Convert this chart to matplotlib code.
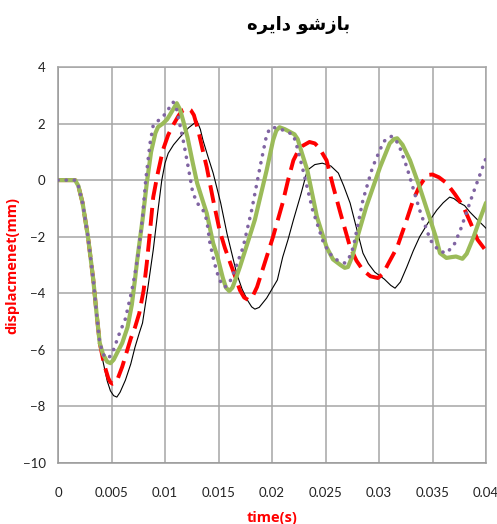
import matplotlib.pyplot as plt

# time (s) / displacement (mm), one pair per series
t_black = [0, 0.0016, 0.0019, 0.0023, 0.0028, 0.0033, 0.0036, 0.0039, 0.0042, 0.0046,
           0.0049, 0.0052, 0.0055, 0.0058, 0.0063, 0.0068, 0.0072, 0.0076, 0.0079, 0.0084,
           0.0089, 0.0093, 0.0097, 0.0100, 0.0103, 0.0108, 0.0114, 0.0122, 0.0127, 0.0130,
           0.0133, 0.01355, 0.0140, 0.0145, 0.0152, 0.0158, 0.0167, 0.0172, 0.0177, 0.0181,
           0.0184, 0.0188, 0.0195, 0.0200, 0.0205, 0.0210, 0.0215, 0.0220, 0.0227, 0.0233,
           0.0240, 0.0247, 0.0255, 0.0262, 0.0267, 0.0273, 0.0279, 0.0285, 0.0290, 0.0296,
           0.0305, 0.0311, 0.0315, 0.0320, 0.0326, 0.0332, 0.0338, 0.0346, 0.0354, 0.0360,
           0.0366, 0.0370, 0.0375, 0.0380, 0.0385, 0.0392, 0.0400]
y_black = [0, 0, -0.2, -0.81, -2.0, -3.53, -4.7, -5.76, -6.4, -7.1,
           -7.45, -7.62, -7.67, -7.5, -7.07, -6.5, -5.9, -5.4, -5.05, -3.8,
           -2.47, -1.2, 0, 0.6, 0.95, 1.25, 1.52, 1.85, 2.0, 2.08,
           1.8, 1.41, 0.85, 0.25, -0.8, -1.9, -3.3, -3.85, -4.24, -4.48,
           -4.56, -4.5, -4.17, -3.85, -3.53, -2.72, -2.1, -1.41, -0.5, 0.35,
           0.55, 0.6, 0.5, 0.25, -0.2, -0.81, -1.7, -2.58, -2.95, -3.25,
           -3.5, -3.72, -3.82, -3.6, -3.07, -2.5, -2.0, -1.5, -1.06, -0.8,
           -0.6, -0.65, -0.8, -0.9, -1.13, -1.4, -1.7]

t_red = [0, 0.0016, 0.0019, 0.0023, 0.0028, 0.0033, 0.0036, 0.0039, 0.0043, 0.0047,
         0.0049, 0.0051, 0.0053, 0.0056, 0.0060, 0.0064, 0.0068, 0.0072, 0.0076, 0.0080,
         0.0083, 0.0086, 0.0089, 0.0093, 0.0098, 0.0103, 0.01075, 0.0113, 0.0117, 0.01215,
         0.0124, 0.0127, 0.0131, 0.0135, 0.0139, 0.0145, 0.0151, 0.0156, 0.0161, 0.0166,
         0.0170, 0.0174, 0.0178, 0.0182, 0.0186, 0.0192, 0.0201, 0.0210, 0.0215, 0.0220,
         0.0224, 0.0228, 0.0235, 0.0240, 0.0244, 0.0251, 0.0257, 0.0264, 0.0273, 0.0279,
         0.0285, 0.0292, 0.0299, 0.0304, 0.0308, 0.0317, 0.0325, 0.0332, 0.0338, 0.0345,
         0.0350, 0.0356, 0.0363, 0.0371, 0.0379, 0.0386, 0.0392, 0.0400]
y_red = [0, 0, -0.2, -0.81, -2.0, -3.53, -4.7, -5.76, -6.5, -7.0,
         -7.15, -7.2, -7.18, -7.0, -6.6, -6.1, -5.6, -5.2, -4.7, -3.9,
         -2.93, -1.8, -0.6, 0.2, 1.06, 1.6, 1.94, 2.3, 2.48, 2.54,
         2.48, 2.3, 1.77, 1.1, 0.46, -0.7, -1.77, -2.4, -2.93, -3.45,
         -3.89, -4.15, -4.24, -4.1, -3.78, -3.07, -2.0, -0.8, 0.0, 0.7,
         1.0, 1.2, 1.35, 1.3, 1.15, 0.7, -0.2, -1.17, -2.37, -2.85,
         -3.18, -3.4, -3.46, -3.3, -3.0, -2.37, -1.5, -0.7, -0.2, 0.18,
         0.2, 0.1, -0.1, -0.5, -0.95, -1.55, -2.1, -2.5]

t_green = [0, 0.0016, 0.0019, 0.0023, 0.0028, 0.0033, 0.0036, 0.0039, 0.0042, 0.0046,
           0.0049, 0.0052, 0.0056, 0.0060, 0.0065, 0.0069, 0.0072, 0.0074, 0.0079, 0.0083,
           0.0087, 0.0091, 0.00935, 0.0098, 0.0102, 0.0106, 0.0111, 0.0114, 0.0117, 0.0121,
           0.0126, 0.0130, 0.0135, 0.0139, 0.0145, 0.0149, 0.0154, 0.0157, 0.0160, 0.0163,
           0.0166, 0.0170, 0.0179, 0.0184, 0.0189, 0.0195, 0.0201, 0.0204, 0.0207, 0.0212,
           0.0217, 0.0221, 0.0224, 0.0228, 0.0233, 0.0242, 0.0251, 0.0257, 0.0264, 0.0268,
           0.0271, 0.0275, 0.0279, 0.0288, 0.0301, 0.0310, 0.0314, 0.0317, 0.0322, 0.0329,
           0.0338, 0.0348, 0.0353, 0.0357, 0.0363, 0.0368, 0.0372, 0.0378, 0.0382, 0.0388,
           0.0394, 0.0400]
y_green = [0, 0, -0.2, -0.81, -2.0, -3.53, -4.7, -5.76, -6.15, -6.42,
           -6.47, -6.35, -6.05, -5.76, -5.2, -4.4, -3.5, -2.83, -1.4, -0.1,
           1.0, 1.66, 1.88, 2.0, 2.15, 2.4, 2.72, 2.5, 2.1, 1.52,
           0.6, -0.1, -0.7, -1.17, -2.23, -2.7, -3.45, -3.8, -3.92, -3.8,
           -3.5, -3.07, -2.0, -1.4, -0.6, 0.35, 1.41, 1.75, 1.87, 1.8,
           1.7, 1.62, 1.45, 0.95, 0.35, -1.3, -2.37, -2.8, -3.0, -3.1,
           -3.07, -2.7, -2.12, -0.95, 0.46, 1.3, 1.45, 1.48, 1.25, 0.7,
           -0.25, -1.41, -2.0, -2.58, -2.75, -2.72, -2.7, -2.78, -2.6, -2.05,
           -1.41, -0.8]

t_purple = [0, 0.0016, 0.0019, 0.0023, 0.0028, 0.0033, 0.0036, 0.0039, 0.0043, 0.0045,
            0.0047, 0.0050, 0.0053, 0.0056, 0.0063, 0.0069, 0.0072, 0.0075, 0.0079, 0.0082,
            0.0086, 0.0089, 0.0095, 0.0102, 0.0105, 0.01075, 0.0110, 0.0112, 0.0117, 0.0122,
            0.0126, 0.0131, 0.01355, 0.0139, 0.0142, 0.0146, 0.0150, 0.0153, 0.0156, 0.0160,
            0.0165, 0.0173, 0.0181, 0.0189, 0.0195, 0.0198, 0.0201, 0.0206, 0.0212, 0.0220,
            0.0224, 0.0229, 0.0238, 0.0248, 0.0254, 0.0261, 0.0268, 0.0272, 0.0276, 0.0285,
            0.0294, 0.0304, 0.0308, 0.0312, 0.0316, 0.0319, 0.0326, 0.0338, 0.0348, 0.0356,
            0.0363, 0.0370, 0.0376, 0.0388, 0.0400]
y_purple = [0, 0, -0.2, -0.81, -2.0, -3.53, -4.7, -5.76, -6.2, -6.28,
            -6.3, -6.15, -5.9, -5.55, -4.9, -3.9, -3.3, -2.6, -1.3, 0,
            1.3, 1.94, 2.15, 2.4, 2.65, 2.76, 2.65, 2.3, 1.41, 0.4,
            -0.46, -0.85, -1.06, -1.41, -2.23, -2.9, -3.43, -3.68, -3.78, -3.65,
            -3.2, -2.37, -1.06, 0.5, 1.6, 1.82, 1.87, 1.82, 1.75, 1.6,
            1.1, 0.35, -1.06, -2.2, -2.6, -2.83, -2.93, -2.75, -2.37, -0.7,
            0.46, 1.34, 1.5, 1.55, 1.4, 1.2, 0.46, -1.06, -2.12, -2.5,
            -2.58, -2.3, -1.77, -0.46, 0.78]

x_ticks = [0, 0.005, 0.01, 0.015, 0.02, 0.025, 0.03, 0.035, 0.04]
x_labels = ["0", "0.005", "0.01", "0.015", "0.02", "0.025", "0.03", "0.035", "0.04"]
y_ticks = [4, 2, 0, -2, -4, -6, -8, -10]

# title "بازشو دایره" written with presentation forms, in visual order
title = "\uFEE9\uFEAE\uFEF3\uFE8D\uFEA9 \uFEEE\uFEB7\uFEAF\uFE8E\uFE91"

fig = plt.figure(figsize=(4.97, 5.24), dpi=100)
ax = fig.add_axes([58 / 497, 1 - 463 / 524, 428 / 497, 396 / 524])

ax.plot(t_black, y_black, color="black", lw=0.8, zorder=3)
red_line, = ax.plot(t_red, y_red, color="#FF0000", lw=2.8, zorder=4)
red_line.set_dashes((4.6, 2.1))
ax.plot(t_green, y_green, color="#9BBB59", lw=3.0, zorder=5,
        solid_capstyle="round", solid_joinstyle="round")
ax.plot(t_purple, y_purple, color="#8064A2", lw=2.6, zorder=6,
        linestyle=(0, (0.05, 2.2)), dash_capstyle="round")

ax.set_xlim(0, 0.04)
ax.set_ylim(-10, 4)
ax.set_xticks(x_ticks)
ax.set_xticklabels(x_labels)
ax.set_yticks(y_ticks)
ax.grid(True, color="#A6A6A6", lw=1.1)
ax.set_axisbelow(True)
ax.tick_params(length=0, labelsize=9.5, labelcolor="#222222")
ax.tick_params(axis="x", pad=17)
ax.tick_params(axis="y", pad=9)
for lab in ax.get_xticklabels() + ax.get_yticklabels():
    lab.set_family("Lato")
for s in ax.spines.values():
    s.set_color("#A6A6A6")
    s.set_linewidth(1.1)
ax.spines["left"].set_color("#999999")
ax.spines["bottom"].set_color("#999999")

ax.set_xlabel("time(s)", color="#FF0000", fontsize=10.5, fontweight="bold",
              family="Open Sans", labelpad=9)
ax.set_ylabel("displacmenet(mm)", color="#FF0000", fontsize=10.5, fontweight="bold",
              family="Open Sans", labelpad=2)

fig.text(299 / 497, 1 - 25 / 524, title, ha="center", va="center",
         fontsize=13, fontweight="bold", family="DejaVu Sans")

fig.savefig("out.png", dpi=100)
